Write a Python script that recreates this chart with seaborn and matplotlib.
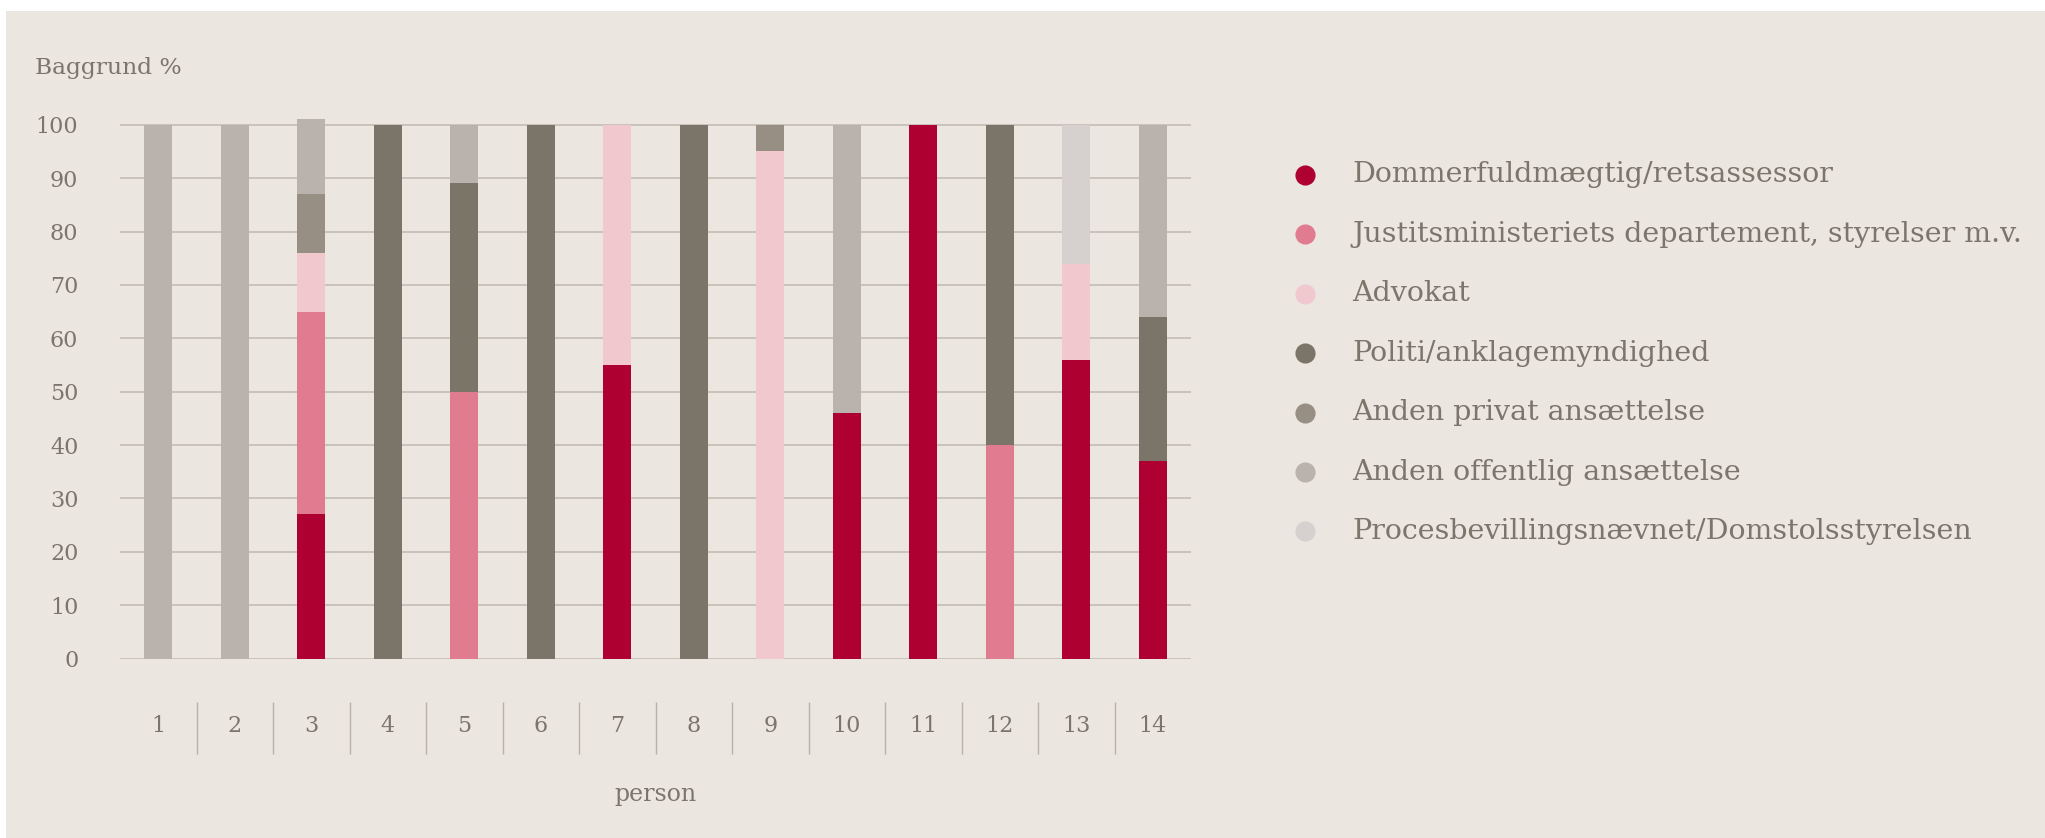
import matplotlib.pyplot as plt
import matplotlib.patches as mpatches
from matplotlib.lines import Line2D
import numpy as np
import pandas as pd
import seaborn as sns

# Data (percent per person, bottom to top of each stack)
persons = [str(i) for i in range(1, 15)]
categories = ['Dommerfuldmægtig/retsassessor',
              'Justitsministeriets departement, styrelser m.v.',
              'Advokat',
              'Politi/anklagemyndighed',
              'Anden privat ansættelse',
              'Anden offentlig ansættelse',
              'Procesbevillingsnævnet/Domstolsstyrelsen']
dommer = [0, 0, 27, 0, 0, 0, 55, 0, 0, 46, 100, 0, 56, 37]
justits = [0, 0, 38, 0, 50, 0, 0, 0, 0, 0, 0, 40, 0, 0]
advokat = [0, 0, 11, 0, 0, 0, 45, 0, 95, 0, 0, 0, 18, 0]
politi = [0, 0, 0, 100, 39, 100, 0, 100, 0, 0, 0, 60, 0, 27]
privat = [0, 0, 11, 0, 0, 0, 0, 0, 5, 0, 0, 0, 0, 0]
offentlig = [100, 100, 14, 0, 11, 0, 0, 0, 0, 54, 0, 0, 0, 36]
proces = [0, 0, 0, 0, 0, 0, 0, 0, 0, 0, 0, 0, 26, 0]
yticks = list(range(0, 101, 10))

colors = ['#AF0032', '#E07B90', '#F2C8CF', '#7B7569', '#978E84', '#BAB3AD', '#D6D1CE']
bg = '#EBE6E0'
txt = '#7B756C'
grid = '#C6C0B9'

df = pd.DataFrame(dict(zip(categories, [dommer, justits, advokat, politi, privat, offentlig, proces])), index=persons)
cum = df.cumsum(axis=1)

sns.set_theme(style='white')
plt.rcParams['font.family'] = ['DejaVu Serif']

W, H = 2045, 838
fig = plt.figure(figsize=(W / 100, H / 100), dpi=100)
fig.patch.set_facecolor('white')
fig.add_artist(mpatches.Rectangle((6 / W, 0), 1, 1 - 11 / H, transform=fig.transFigure,
                                  facecolor=bg, edgecolor='none', zorder=0))

ax = fig.add_axes([120 / W, (H - 658.5) / H, 1071 / W, 560.4 / H])
ax.set_facecolor('none')

# stacked bars: draw cumulative totals from the top category down
for cat, col in reversed(list(zip(categories, colors))):
    sns.barplot(x=persons, y=cum[cat].values, color=col, width=0.37, saturation=1,
                linewidth=0, errorbar=None, ax=ax, zorder=3)

ax.set_xlim(-0.5, 13.5)
ax.set_ylim(0, 105)
ax.set_yticks(yticks)
ax.yaxis.grid(True, color=grid, linewidth=1.3)
ax.set_axisbelow(True)
for s in ax.spines.values():
    s.set_visible(False)
ax.tick_params(axis='both', length=0, labelsize=16, colors=txt)
ax.tick_params(axis='x', pad=41)
ax.tick_params(axis='y', pad=30)
ax.set_xlabel('')
ax.set_ylabel('')

# separators between x categories
ax.vlines(np.arange(0.5, 13), -0.170, -0.0776, transform=ax.get_xaxis_transform(),
          clip_on=False, color='#B8B2AB', linewidth=1)

fig.text(35 / W, 1 - 68 / H, 'Baggrund %', fontsize=16.8, color=txt, ha='left', va='center')
fig.text(655 / W, 1 - 794 / H, 'person', fontsize=17, color=txt, ha='center', va='center')

# legend
for i, (cat, col) in enumerate(zip(categories, colors)):
    yf = 1 - (175 + i * 59.4) / H
    fig.add_artist(Line2D([1305 / W], [yf], marker='o', markersize=13.5, color=col,
                          linestyle='none', transform=fig.transFigure))
    fig.text(1352 / W, yf, cat, fontsize=20.5, color=txt, ha='left', va='center')

fig.savefig('out.png', dpi=100)
